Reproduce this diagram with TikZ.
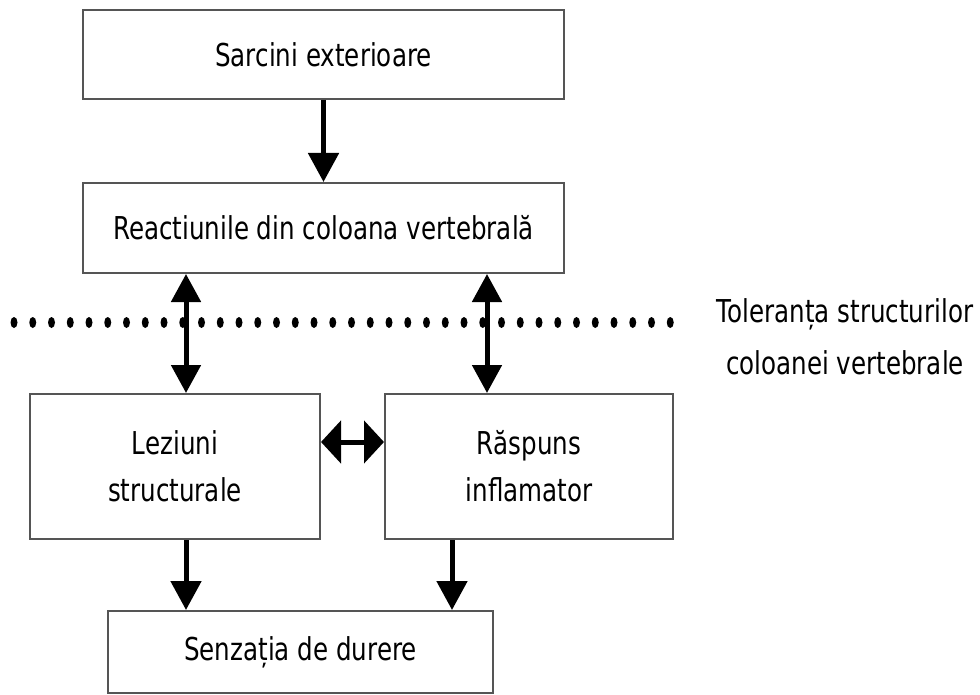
\documentclass[tikz,border=0pt]{standalone}
\usepackage{fontspec}
\newfontfamily\diagfont[FakeStretch=0.78]{DejaVu Sans}
\usepackage{tikz}
\usetikzlibrary{calc,arrows.meta}
\definecolor{boxgray}{RGB}{85,85,85}

\tikzset{
  box/.style={draw=boxgray, line width=2pt, fill=white, inner sep=0pt, align=center,
    font=\diagfont\fontsize{31.5}{47}\selectfont},
  arr/.style={line width=5pt, -{Triangle[length=29pt,width=30pt]}},
  darr/.style={line width=5pt, {Triangle[length=28pt,width=29pt]}-{Triangle[length=28pt,width=29pt]}},
  harr/.style={line width=5pt, {Triangle[length=20pt,width=42pt]}-{Triangle[length=20pt,width=42pt]}}
}

\begin{document}
\begin{tikzpicture}[x=1pt,y=-1pt]
	\useasboundingbox (0,0) rectangle (980,695);

	% linia punctata
	\foreach \i in {0,...,35}
		\fill (14+\i*18.75,322.5) ellipse [x radius=3.5pt, y radius=5.5pt];

	\node[box, minimum width=481pt, minimum height=89pt] (sarcini) at (323.5,54.5) {Sarcini exterioare};
	\node[box, minimum width=481pt, minimum height=90pt] (reactii) at (323.5,228) {Reactiunile din coloana vertebrală};
	\node[box, minimum width=290pt, minimum height=145pt] (leziuni) at (175,466.5) {Leziuni\\structurale};
	\node[box, minimum width=288pt, minimum height=145pt] (raspuns) at (529,466.5) {Răspuns\\inflamator};
	\node[box, minimum width=385pt, minimum height=82pt] (senzatie) at (300.5,652) {Senzația de durere};

	\node[align=center, font=\diagfont\fontsize{31.5}{52}\selectfont] (toleranta) at (845,337) {Toleranța structurilor\\coloanei vertebrale};

	\draw[arr] (sarcini) -- (reactii);
	\draw[darr] ([xshift=11pt]leziuni.north |- reactii.south) -- ([xshift=11pt]leziuni.north);
	\draw[darr] ([xshift=-42pt]raspuns.north |- reactii.south) -- ([xshift=-42pt]raspuns.north);
	\draw[harr] ([yshift=24.5pt]leziuni.east) -- ([yshift=24.5pt]raspuns.west);
	\draw[arr] ([xshift=11pt]leziuni.south) -- ([xshift=11pt]leziuni.south |- senzatie.north);
	\draw[arr] ([xshift=-77pt]raspuns.south) -- ([xshift=-77pt]raspuns.south |- senzatie.north);

\end{tikzpicture}
\end{document}
